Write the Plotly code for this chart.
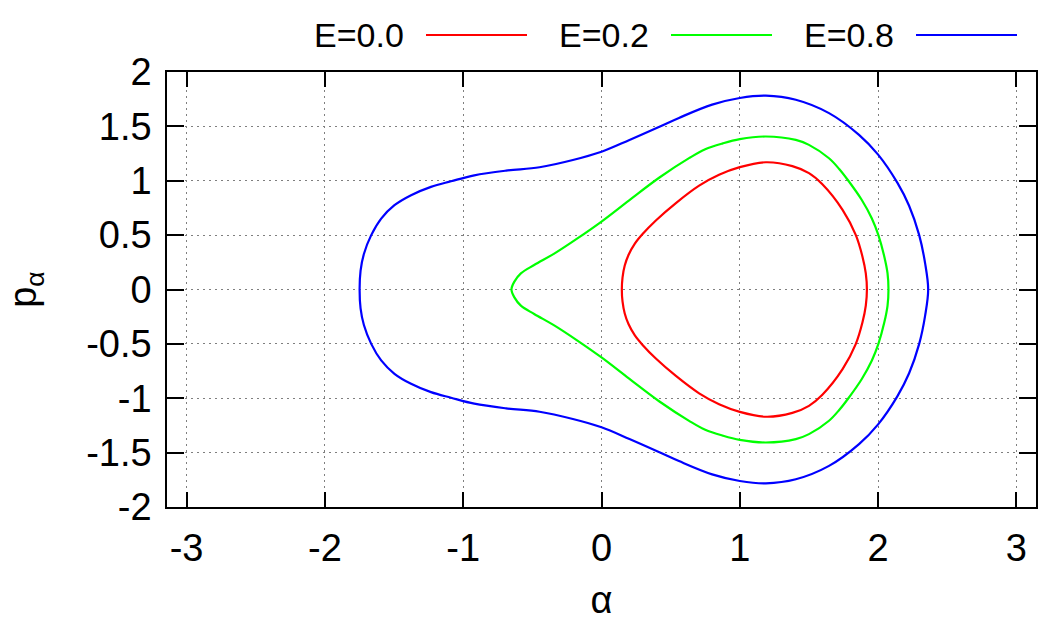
import plotly.graph_objects as go

RED = "#FF0000"
GREEN = "#00FF00"
BLUE = "#0000FF"
FONT = "Liberation Sans, Arial, sans-serif"

# upper half of each orbit (p >= 0), read from left turning point to right one;
# the lower half is the mirror image p -> -p
ALPHA_E00 = [0.147, 0.152, 0.168, 0.196, 0.24, 0.297, 0.393, 0.538, 0.706, 0.85,
             1.0, 1.188, 1.38, 1.5, 1.597, 1.743, 1.839, 1.887, 1.911, 1.919]
P_E00 = [0.0, 0.11, 0.22, 0.32, 0.42, 0.51, 0.635, 0.795, 0.955, 1.055,
         1.125, 1.17, 1.135, 1.07, 0.968, 0.733, 0.5, 0.302, 0.148, 0.0]

ALPHA_E02 = [-0.651, -0.631, -0.583, -0.487, -0.342, -0.174, 0.0, 0.2, 0.419,
             0.636, 0.75, 0.877, 1.0, 1.188, 1.405, 1.5, 1.645, 1.72, 1.785,
             1.881, 1.954, 2.002, 2.045, 2.068, 2.075]
P_E02 = [0.0, 0.07, 0.148, 0.225, 0.33, 0.47, 0.625, 0.82, 1.03,
         1.21, 1.29, 1.344, 1.383, 1.407, 1.376, 1.33, 1.207, 1.106, 1.0,
         0.825, 0.655, 0.5, 0.302, 0.15, 0.0]

ALPHA_E08 = [-1.749, -1.742, -1.718, -1.665, -1.593, -1.497, -1.377, -1.233,
             -1.088, -0.92, -0.69, -0.448, -0.207, 0.0, 0.202, 0.419, 0.56, 0.8,
             1.0, 1.188, 1.405, 1.645, 1.862, 2.0, 2.14, 2.224, 2.297, 2.34, 2.362]
P_E08 = [0.0, 0.173, 0.327, 0.5, 0.652, 0.775, 0.867, 0.944,
         0.995, 1.05, 1.093, 1.124, 1.191, 1.267, 1.375, 1.497, 1.578, 1.70,
         1.761, 1.782, 1.745, 1.622, 1.422, 1.24, 0.98, 0.77, 0.5, 0.24, 0.0]

LABELS = ["E=0.0", "E=0.2", "E=0.8"]
COLORS = [RED, GREEN, BLUE]

X_TICKS = [-3, -2, -1, 0, 1, 2, 3]
Y_TICKS = [-2, -1.5, -1, -0.5, 0, 0.5, 1, 1.5, 2]


def closed_loop(alpha, p):
    xs = list(alpha) + list(alpha[-2::-1])
    ys = list(p) + [-v for v in p[-2::-1]]
    xs, ys = xs[:-1], ys[:-1]
    # start the path at the top of the orbit so the spline joins smoothly
    k = ys.index(max(ys))
    xs = xs[k:] + xs[:k] + [xs[k]]
    ys = ys[k:] + ys[:k] + [ys[k]]
    return xs, ys


fig = go.Figure()
for alpha, p, label, color in [
    (ALPHA_E00, P_E00, LABELS[0], COLORS[0]),
    (ALPHA_E02, P_E02, LABELS[1], COLORS[1]),
    (ALPHA_E08, P_E08, LABELS[2], COLORS[2]),
]:
    xs, ys = closed_loop(alpha, p)
    fig.add_trace(
        go.Scatter(
            x=xs,
            y=ys,
            mode="lines",
            line=dict(color=color, width=2.2, shape="spline", smoothing=1.0,
                      simplify=False),
            name=label,
            showlegend=False,
        )
    )

# gnuplot-style key: label first, sample line after it
W, H = 1039, 624
L, R, T, B = 167, 3, 72, 117
pw, ph = W - L - R, H - T - B
key_y = (H - B - 35) / ph
for i, (label, color) in enumerate(zip(LABELS, COLORS)):
    x_text = 406 + 245 * i
    x0, x1 = 426 + 245 * i, 527 + 245 * i
    fig.add_annotation(
        x=(x_text - L) / pw, y=key_y, xref="paper", yref="paper",
        text=label, showarrow=False, xanchor="right", yanchor="middle",
        font=dict(family=FONT, size=34, color="black"),
    )
    fig.add_shape(
        type="line", xref="paper", yref="paper",
        x0=(x0 - L) / pw, x1=(x1 - L) / pw, y0=key_y, y1=key_y,
        line=dict(color=color, width=2.2),
    )

axis_common = dict(
    showline=True,
    linecolor="black",
    linewidth=1.5,
    mirror="ticks",
    ticks="inside",
    tickcolor="black",
    tickwidth=1.5,
    showgrid=True,
    gridcolor="#7f7f7f",
    gridwidth=1.2,
    griddash="2px,4px",
    zeroline=False,
    automargin=False,
    tickfont=dict(family=FONT, size=38, color="black"),
)

fig.update_xaxes(
    **axis_common,
    range=[-3.1416, 3.1416],
    tickvals=X_TICKS,
    ticktext=[str(v) for v in X_TICKS],
    ticklen=15,
    ticklabelstandoff=7,
    title=dict(text="α", font=dict(family=FONT, size=38, color="black"), standoff=18),
)
fig.update_yaxes(
    **axis_common,
    range=[-2, 2],
    tickvals=Y_TICKS,
    ticktext=[f"{v:g}" for v in Y_TICKS],
    ticklen=17,
    ticklabelstandoff=6,
    title=dict(text="p<sub>α</sub>", font=dict(family=FONT, size=38, color="black"), standoff=38),
)

fig.update_layout(
    width=W,
    height=H,
    margin=dict(l=L, r=R, t=T, b=B),
    paper_bgcolor="white",
    plot_bgcolor="white",
    showlegend=False,
)

# the page body has a default 8px margin; drop it so the figure fills the window
fig.write_html(
    "out.html",
    config={"displayModeBar": False},
    post_script="document.body.style.margin = '0';",
)
